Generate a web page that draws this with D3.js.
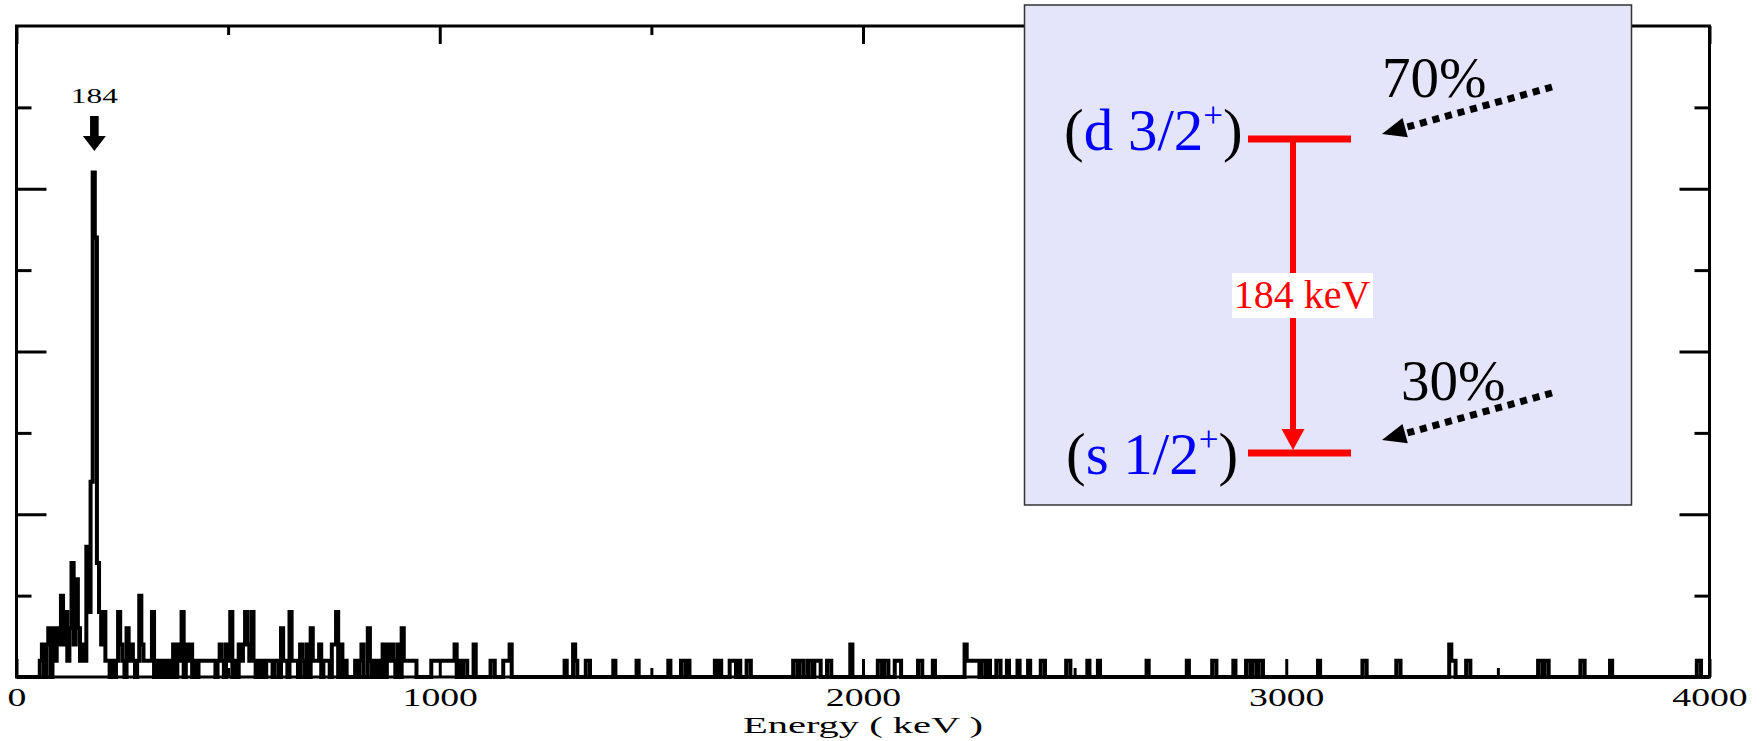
<!DOCTYPE html>
<html>
<head>
<meta charset="utf-8">
<script src="https://cdn.jsdelivr.net/npm/d3@7"></script>
<style>
  body { margin: 0; background: #fff; }
  svg { display: block; }
</style>
</head>
<body>
<div id="chart"></div>
<script>
// gamma spectrum, 5 keV bins
const binWidth = 5;
// dense part, 0 - 1095 keV (one row = 50 keV)
const denseCounts = [
  0,0,0,0,0,0,0,0,0,0,
  0,1,2,0,2,3,0,3,1,3,
  2,5,2,4,1,3,7,2,6,3,
  1,2,1,8,4,12,31,27,7,4,
  2,4,1,1,0,1,0,1,4,2,
  1,0,3,1,2,1,0,1,5,2,
  1,1,1,1,4,0,1,0,1,0,
  1,0,1,0,2,0,2,1,4,0,
  2,1,2,0,1,0,1,1,1,1,
  1,1,1,1,0,1,2,1,0,2,
  1,4,0,1,0,2,1,2,4,2,
  1,4,1,0,1,0,1,0,1,1,
  1,0,1,1,0,3,1,1,0,4,
  1,1,1,0,2,1,0,2,0,3,
  1,1,1,2,0,1,1,1,0,2,
  2,4,0,2,0,1,0,0,0,0,
  1,0,1,2,0,0,3,1,0,1,
  0,1,0,2,0,2,1,2,1,0,
  2,0,3,1,1,1,1,1,1,0,
  0,0,0,0,0,0,1,1,1,1,
  1,1,1,1,1,1,1,2,0,1,
  0,1,1,0,0,0,2,0,0,0
];
// isolated bins above 1100 keV
const sparseEnergy = [1120,1125,1150,1155,1160,1165,1295,1315,1320,1345,1350,1410,1465,1540,
  1570,1575,1585,1650,1660,1685,1690,1695,1705,1725,1730,1835,1840,1850,1855,1870,1875,1885,
  1890,1895,1915,1920,1970,2035,2040,2050,2055,2075,2080,2085,2130,2135,2165,2240,2245,2250,
  2255,2260,2265,2270,2280,2285,2295,2315,2320,2340,2365,2390,2420,2425,2480,2485,2530,2555,
  2670,2765,2825,2830,2875,2905,2910,2920,2925,2935,2940,3075,3180,3185,3260,3265,3385,3390,
  3395,3425,3430,3595,3600,3610,3615,3695,3700,3765,3970,3975];
const sparseCounts = [1,1,1,1,1,2,1,2,1,1,1,1,1,1,
  1,1,1,1,1,1,1,1,1,1,1,1,1,1,1,1,1,1,
  1,1,1,1,2,1,1,1,1,1,1,1,1,1,1,2,1,1,
  1,1,1,1,1,1,1,1,1,1,1,1,1,1,1,1,1,1,
  1,1,1,1,1,1,1,1,1,1,1,1,1,1,1,1,2,1,
  1,1,1,1,1,1,1,1,1,1,1,1];

const xLabelTicks = [0, 1000, 2000, 3000, 4000];
const xMinorTicks = [500, 1500, 2500, 3500];
const yMajorTicks = [10, 20, 30];
const yMinorTicks = [5, 15, 25, 35];
const peakEnergy = 184;

// level scheme inset
const levelNames = ["d 3/2", "s 1/2"];
const feedLabels = ["70%", "30%"];
const gammaLabel = "184 keV";

const width = 1763, height = 741;
const plot = {left: 16.5, right: 1709.5, top: 26, bottom: 677};
const axisFont = "Liberation Serif";

const svg = d3.select("#chart").append("svg")
  .attr("width", width)
  .attr("height", height);

const x = d3.scaleLinear().domain([0, 4000]).range([plot.left, plot.right]);
const y = d3.scaleLinear().domain([0, 40]).range([plot.bottom, plot.top]);

// histogram bins
const nBins = 4000 / binWidth;
const counts = new Array(nBins).fill(0);
denseCounts.forEach((c, i) => { counts[i] = c; });
sparseEnergy.forEach((e, i) => { counts[e / binWidth] = sparseCounts[i]; });
const steps = counts.map((c, i) => ({e: i * binWidth, c: c}));
steps.push({e: 4000, c: counts[nBins - 1]});

svg.append("path")
  .datum(steps)
  .attr("fill", "none")
  .attr("stroke", "#000")
  .attr("stroke-width", 4)
  .attr("d", d3.line().x(d => x(d.e)).y(d => y(d.c)).curve(d3.curveStepAfter));

// axes (ticks inward)
function styleAxis(g) {
  g.select(".domain").remove();
  g.selectAll(".tick line").attr("stroke", "#000").attr("stroke-width", 3);
}

const xb = svg.append("g").attr("transform", `translate(0,${plot.bottom})`)
  .call(d3.axisBottom(x).tickValues(xLabelTicks).tickSize(-18).tickPadding(11).tickFormat(d3.format("d")))
  .call(styleAxis);
xb.selectAll("text")
  .attr("font-family", axisFont)
  .attr("font-size", 26)
  .attr("fill", "#000")
  .each(function() {
    const w = this.getComputedTextLength();
    d3.select(this).attr("textLength", w * 1.45).attr("lengthAdjust", "spacingAndGlyphs");
  });
svg.append("g").attr("transform", `translate(0,${plot.bottom})`)
  .call(d3.axisBottom(x).tickValues(xMinorTicks).tickSize(-9).tickFormat(""))
  .call(styleAxis);
svg.append("g").attr("transform", `translate(0,${plot.top})`)
  .call(d3.axisTop(x).tickValues(xLabelTicks).tickSize(-18).tickFormat(""))
  .call(styleAxis);
svg.append("g").attr("transform", `translate(0,${plot.top})`)
  .call(d3.axisTop(x).tickValues(xMinorTicks).tickSize(-9).tickFormat(""))
  .call(styleAxis);
svg.append("g").attr("transform", `translate(${plot.left},0)`)
  .call(d3.axisLeft(y).tickValues(yMajorTicks).tickSize(-30).tickFormat(""))
  .call(styleAxis);
svg.append("g").attr("transform", `translate(${plot.left},0)`)
  .call(d3.axisLeft(y).tickValues(yMinorTicks).tickSize(-15).tickFormat(""))
  .call(styleAxis);
svg.append("g").attr("transform", `translate(${plot.right},0)`)
  .call(d3.axisRight(y).tickValues(yMajorTicks).tickSize(-30).tickFormat(""))
  .call(styleAxis);
svg.append("g").attr("transform", `translate(${plot.right},0)`)
  .call(d3.axisRight(y).tickValues(yMinorTicks).tickSize(-15).tickFormat(""))
  .call(styleAxis);

// frame
svg.append("rect")
  .attr("x", plot.left).attr("y", plot.top)
  .attr("width", plot.right - plot.left).attr("height", plot.bottom - plot.top)
  .attr("fill", "none").attr("stroke", "#000").attr("stroke-width", 3);

// axis title
svg.append("text")
  .attr("x", (plot.left + plot.right) / 2)
  .attr("y", 733)
  .attr("text-anchor", "middle")
  .attr("font-family", axisFont)
  .attr("font-size", 24)
  .attr("textLength", 240)
  .attr("lengthAdjust", "spacingAndGlyphs")
  .text("Energy ( keV )");

// peak marker
const px = x(peakEnergy);
svg.append("text")
  .attr("x", px).attr("y", 102.5)
  .attr("text-anchor", "middle")
  .attr("font-family", axisFont)
  .attr("font-size", 21)
  .attr("textLength", 47)
  .attr("lengthAdjust", "spacingAndGlyphs")
  .text(peakEnergy);
svg.append("path")
  .attr("d", `M${px - 4.3},116 H${px + 4.3} V136 H${px + 11.5} L${px},151 L${px - 11.5},136 H${px - 4.3} Z`)
  .attr("fill", "#000");

// ---- inset: level scheme ----
const inset = svg.append("g");
inset.append("rect")
  .attr("x", 1024.5).attr("y", 5)
  .attr("width", 607).attr("height", 500)
  .attr("fill", "#e4e4fa")
  .attr("stroke", "#333")
  .attr("stroke-width", 1.5);

const levelY = [139, 453];
const labelBase = [150, 474];
const labelX = [1064, 1066];

levelNames.forEach((name, i) => {
  inset.append("line")
    .attr("x1", 1248).attr("x2", 1351)
    .attr("y1", levelY[i]).attr("y2", levelY[i])
    .attr("stroke", "#ff0000").attr("stroke-width", 7);

  const t = inset.append("text")
    .attr("x", labelX[i]).attr("y", labelBase[i])
    .attr("font-family", "Liberation Serif")
    .attr("font-size", 59);
  t.append("tspan").attr("fill", "#000").text("(");
  t.append("tspan").attr("fill", "#0000ff").text(name);
  t.append("tspan").attr("fill", "#0000ff").attr("font-size", 35).attr("dy", -23).text("+");
  t.append("tspan").attr("fill", "#000").attr("dy", 23).text(")");
});

// gamma transition
inset.append("line")
  .attr("x1", 1293).attr("x2", 1293)
  .attr("y1", levelY[0]).attr("y2", 432)
  .attr("stroke", "#ff0000").attr("stroke-width", 6);
inset.append("path")
  .attr("d", "M1281.5,429 L1304.5,429 L1293,450 Z")
  .attr("fill", "#ff0000");
inset.append("rect")
  .attr("x", 1232).attr("y", 273)
  .attr("width", 141).attr("height", 45)
  .attr("fill", "#fff");
inset.append("text")
  .attr("x", 1302).attr("y", 308)
  .attr("text-anchor", "middle")
  .attr("font-family", "Liberation Serif")
  .attr("font-size", 40)
  .attr("fill", "#ff0000")
  .text(gammaLabel);

// feeding arrows
const feedTip = [[1382, 134], [1382, 440]];
const feedStart = [[1552, 87], [1552, 393]];
const feedText = [[1382, 97], [1401, 400]];

feedLabels.forEach((lab, i) => {
  const [x0, y0] = feedStart[i];
  const [x1, y1] = feedTip[i];
  const len = Math.hypot(x1 - x0, y1 - y0);
  const ux = (x1 - x0) / len, uy = (y1 - y0) / len;
  const bx = x1 - ux * 24, by = y1 - uy * 24;
  inset.append("line")
    .attr("x1", x0).attr("y1", y0).attr("x2", bx).attr("y2", by)
    .attr("stroke", "#000").attr("stroke-width", 7)
    .attr("stroke-dasharray", "7,6");
  inset.append("path")
    .attr("d", `M${x1},${y1} L${bx - uy * 10},${by + ux * 10} L${bx + uy * 10},${by - ux * 10} Z`)
    .attr("fill", "#000");
  inset.append("text")
    .attr("x", feedText[i][0]).attr("y", feedText[i][1])
    .attr("font-family", "Liberation Serif")
    .attr("font-size", 57)
    .attr("fill", "#000")
    .text(lab);
});
</script>
</body>
</html>
